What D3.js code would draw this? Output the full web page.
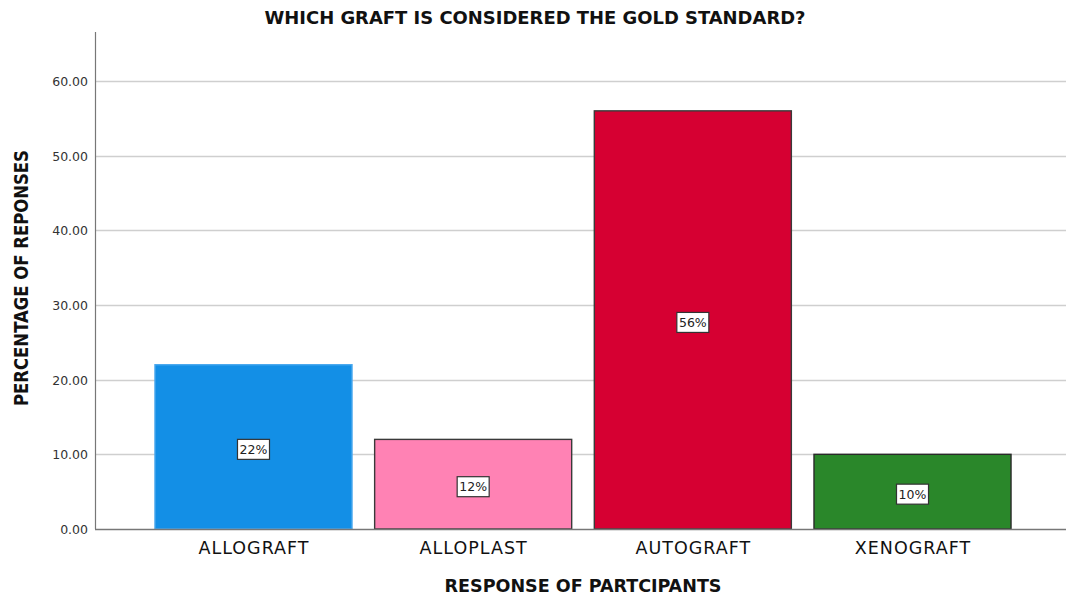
<!DOCTYPE html>
<html>
<head>
<meta charset="utf-8">
<script src="https://cdn.jsdelivr.net/npm/d3@7"></script>
<style>
  html, body { margin: 0; padding: 0; background: #fff; }
  svg { display: block; }
</style>
</head>
<body>
<svg id="chart" width="1066" height="599"></svg>
<script>
// Survey answers: which graft is the gold standard
const categories = ["ALLOGRAFT", "ALLOPLAST", "AUTOGRAFT", "XENOGRAFT"];
const percentages = [22, 12, 56, 10];
const barColors = ["#138fe6", "#ff82b4", "#d60032", "#2a872a"];
const barStrokes = ["#4aa8ee", "#3a3a3a", "#3a3a3a", "#2a2a2a"];
const yTicks = [0, 10, 20, 30, 40, 50, 60];

(function () {
  const svg = d3.select("#chart");
  const W = 1066;
  const plotLeft = 95, plotRight = 1071, plotTop = 32, plotBottom = 529;

  const x = d3.scaleBand()
    .domain(categories)
    .range([plotLeft, plotRight])
    .paddingInner(0.103)
    .paddingOuter(0.273);

  const y = d3.scaleLinear()
    .domain([0, 66.56])
    .range([plotBottom, plotTop]);

  // horizontal gridlines
  svg.append("g")
    .selectAll("line")
    .data(yTicks.filter(d => d > 0))
    .join("line")
    .attr("x1", plotLeft).attr("x2", W)
    .attr("y1", d => Math.round(y(d)) + 0.5)
    .attr("y2", d => Math.round(y(d)) + 0.5)
    .attr("stroke", "#cfcfcf")
    .attr("stroke-width", 1.3);

  // y axis with value labels
  const yAxis = svg.append("g")
    .attr("transform", `translate(${plotLeft},0)`)
    .call(d3.axisLeft(y).tickValues(yTicks).tickFormat(d3.format(".2f")).tickSize(0).tickPadding(7));
  yAxis.select(".domain").remove();
  yAxis.selectAll("text")
    .attr("font-family", "'DejaVu Sans', Verdana, sans-serif")
    .attr("font-size", 12.5)
    .attr("fill", "#333")
    .attr("dy", "0.35em");

  svg.append("line")
    .attr("x1", plotLeft + 0.5).attr("x2", plotLeft + 0.5)
    .attr("y1", plotTop).attr("y2", plotBottom)
    .attr("stroke", "#777").attr("stroke-width", 1.2);

  // bars
  svg.append("g")
    .selectAll("rect")
    .data(categories)
    .join("rect")
    .attr("x", d => x(d))
    .attr("y", (d, i) => y(percentages[i]))
    .attr("width", x.bandwidth())
    .attr("height", (d, i) => y(0) - y(percentages[i]))
    .attr("fill", (d, i) => barColors[i])
    .attr("stroke", (d, i) => barStrokes[i])
    .attr("stroke-width", 1.4);

  // baseline
  svg.append("line")
    .attr("x1", plotLeft).attr("x2", W)
    .attr("y1", plotBottom + 0.5).attr("y2", plotBottom + 0.5)
    .attr("stroke", "#777").attr("stroke-width", 1.4);

  // value labels in boxes at bar mid-height
  const lab = svg.append("g")
    .selectAll("g")
    .data(categories)
    .join("g")
    .attr("transform", (d, i) => `translate(${x(d) + x.bandwidth() / 2},${y(percentages[i] / 2) + 2.5})`);
  lab.append("rect")
    .attr("x", -16).attr("y", -10)
    .attr("width", 32).attr("height", 20)
    .attr("fill", "#fff")
    .attr("stroke", "#333")
    .attr("stroke-width", 1.2);
  lab.append("text")
    .attr("text-anchor", "middle")
    .attr("dy", "0.36em")
    .attr("font-family", "'DejaVu Sans', Verdana, sans-serif")
    .attr("font-size", 12.5)
    .attr("fill", "#222")
    .text((d, i) => percentages[i] + "%");

  // category labels
  svg.append("g")
    .selectAll("text")
    .data(categories)
    .join("text")
    .attr("x", d => x(d) + x.bandwidth() / 2 + 0.5)
    .attr("y", 554)
    .attr("text-anchor", "middle")
    .attr("font-family", "'DejaVu Sans', Verdana, sans-serif")
    .attr("font-size", 17.5)
    .attr("letter-spacing", 1)
    .attr("fill", "#111")
    .text(d => d);

  // titles
  const boldFont = "'DejaVu Sans Condensed', 'DejaVu Sans', sans-serif";
  svg.append("text")
    .attr("x", 535).attr("y", 24)
    .attr("text-anchor", "middle")
    .attr("font-family", boldFont)
    .attr("font-weight", "bold")
    .attr("font-size", 17.5)
    .attr("textLength", 541)
    .attr("lengthAdjust", "spacingAndGlyphs")
    .attr("fill", "#111")
    .text("WHICH GRAFT IS CONSIDERED THE GOLD STANDARD?");

  svg.append("text")
    .attr("x", 583).attr("y", 592)
    .attr("text-anchor", "middle")
    .attr("font-family", boldFont)
    .attr("font-weight", "bold")
    .attr("font-size", 18)
    .attr("textLength", 277)
    .attr("lengthAdjust", "spacingAndGlyphs")
    .attr("fill", "#111")
    .text("RESPONSE OF PARTCIPANTS");

  svg.append("text")
    .attr("transform", "translate(28,278) rotate(-90)")
    .attr("text-anchor", "middle")
    .attr("font-family", boldFont)
    .attr("font-weight", "bold")
    .attr("font-size", 19)
    .attr("textLength", 256)
    .attr("lengthAdjust", "spacingAndGlyphs")
    .attr("fill", "#111")
    .text("PERCENTAGE OF REPONSES");
})();
</script>
</body>
</html>
